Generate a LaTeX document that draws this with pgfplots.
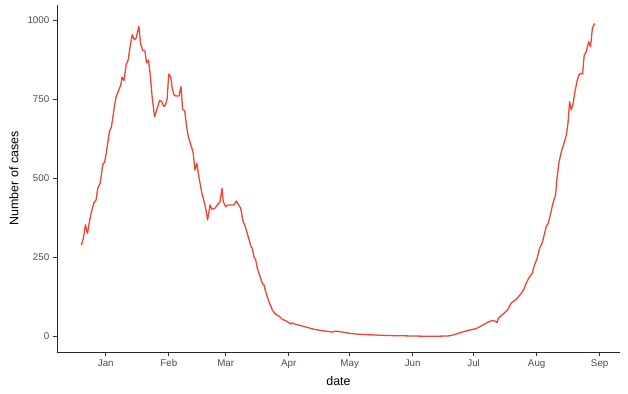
\documentclass[border=0pt]{standalone}
\usepackage{fontspec}
\setmainfont{Liberation Sans}
\usepackage{pgfplots}
\pgfplotsset{compat=1.18}
\usetikzlibrary{calc}
\definecolor{linecol}{RGB}{240,68,50}
\definecolor{tickcol}{RGB}{77,77,77}
\definecolor{axcol}{RGB}{51,51,51}
\begin{document}
\begin{tikzpicture}
\begin{axis}[
  at={(57bp,42bp)}, anchor=south west,
  scale only axis, width=563bp, height=347bp,
  xmin=-24, xmax=253, ymin=-50, ymax=1047,
  axis x line*=bottom, axis y line*=left,
  axis line style={black!85, line width=0.9bp, -},
  xtick={0,31,59,90,120,151,181,212,243},
  xticklabels={Jan,Feb,Mar,Apr,May,Jun,Jul,Aug,Sep},
  ytick={0,250,500,750,1000},
  tick style={color=axcol, line width=0.7bp},
  tick align=outside, major tick length=3.7bp,
  ticklabel style={font=\fontsize{9.8}{11}\selectfont, text=tickcol},
  /pgf/number format/assume math mode=true,
  /pgf/number format/1000 sep={},
  yticklabel style={xshift=-0.5bp},
  xticklabel style={yshift=-0.5bp},
  xlabel={date}, ylabel={Number of cases},
  label style={font=\fontsize{12.5}{14}\selectfont, text=black},
  xlabel style={at={($(axis description cs:0.5,0)+(0,-29bp)$)}, anchor=center},
  ylabel style={at={($(axis description cs:0,0.5)+(-43bp,0)$)}, anchor=center},
  clip=false,
]
\addplot[color=linecol, line width=1.3bp, line join=round] coordinates {
(-12.0,288) (-11.0,310) (-10.0,352) (-9.0,325) (-7.9,367) (-6.8,399) (-5.8,422) (-4.8,430)
(-3.9,468) (-2.8,483) (-1.5,541) (-0.5,552) (0.6,594) (1.8,647) (2.8,662) (4.1,720)
(5.1,757) (6.4,778) (7.4,794) (8.0,819) (9.0,808) (10.0,858) (11.0,873) (12.0,916)
(13.0,953) (14.1,937) (14.9,942) (16.3,979) (17.1,926) (18.2,903) (19.2,903) (20.1,864)
(21.0,873) (21.8,831) (22.8,757) (24.0,694) (25.3,720) (26.5,745) (27.5,742) (28.6,726)
(29.4,731) (30.2,752) (31.0,829) (32.0,818) (32.7,784) (33.5,763) (34.6,759) (36.0,759)
(37.0,789) (37.8,717) (38.8,713) (39.8,662) (40.6,631) (41.7,608) (42.9,583) (43.9,525)
(44.8,547) (45.8,504) (47.3,452) (48.4,425) (49.3,399) (50.1,367) (51.3,415) (52.2,401)
(53.6,404) (54.9,415) (56.2,425) (57.2,467) (57.8,425) (59.0,409) (60.1,415) (61.5,415)
(63.1,415) (64.2,427) (65.1,418) (66.4,404) (67.4,367) (68.9,341) (70.1,314) (71.3,286)
(72.1,277) (72.9,251) (73.8,240) (74.6,214) (75.4,198) (76.2,183) (77.0,167) (77.9,161)
(78.7,140) (80.3,109) (82.0,82) (83.6,69) (85.3,63) (86.9,53) (88.6,49) (90.2,42)
(91.0,38) (91.8,42) (93.5,37) (95.1,35) (98.4,29) (101.7,23) (105.0,19) (108.3,16)
(111.5,13) (113.2,16) (116.5,13) (119.8,9) (124.7,6) (131.2,4) (139.5,2) (147.7,1)
(155.9,0) (164.1,0) (169.0,1) (171.5,5) (174.0,10) (176.4,15) (178.9,19) (182.2,24)
(185.5,35) (187.9,44) (190.4,50) (191.7,47) (192.4,43) (193.3,58) (195.3,69) (197.8,84)
(199.5,105) (201.9,116) (204.4,135) (205.5,146) (206.8,167) (208.5,188) (209.8,198) (210.9,225)
(212.1,243) (213.4,277) (214.7,295) (215.9,325) (216.7,346) (217.7,357) (218.7,383) (220.0,420)
(221.3,446) (221.9,494) (222.9,547) (224.1,583) (225.2,604) (226.6,636) (227.4,673) (228.2,741)
(229.0,715) (229.8,731) (230.7,768) (231.8,805) (232.8,826) (233.6,831) (234.6,829) (235.4,889)
(236.4,899) (237.6,931) (238.5,915) (239.4,973) (240.5,989)
};
\end{axis}
\pgfresetboundingbox
\useasboundingbox (0,0) rectangle (628bp,394bp);
\end{tikzpicture}
\end{document}
